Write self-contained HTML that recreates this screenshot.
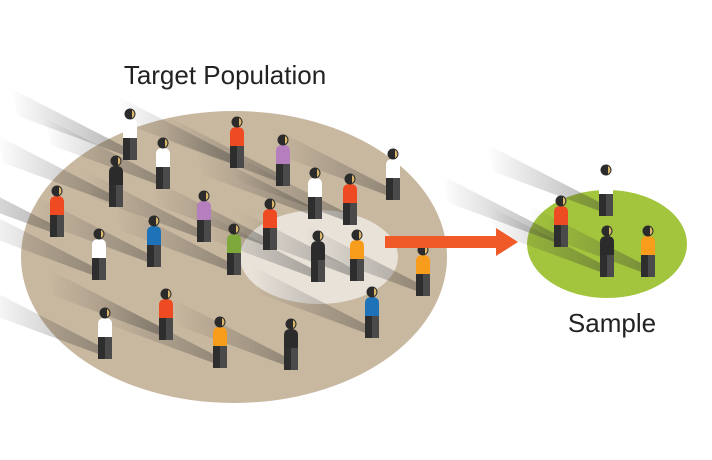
<!DOCTYPE html>
<html><head><meta charset="utf-8"><style>
html,body{margin:0;padding:0;background:#fff;width:712px;height:460px;overflow:hidden}
</style></head><body>
<svg id="s" width="712" height="460" viewBox="0 0 712 460" xmlns="http://www.w3.org/2000/svg">
<defs><linearGradient id="g" x1="1" y1="0" x2="0" y2="0"><stop offset="0" stop-color="#333" stop-opacity="0.4"/><stop offset="1" stop-color="#333" stop-opacity="0"/></linearGradient></defs>
<ellipse cx="234" cy="257" rx="213" ry="146" fill="#c9b8a0"/>
<ellipse cx="319" cy="257" rx="79" ry="47" fill="#e8e2d9"/>
<ellipse cx="607" cy="244" rx="80" ry="54" fill="#a3c53d"/>
<g id="sh"></g>
<g id="pp"></g>
<rect x="385" y="236" width="112" height="12" fill="#f05a28"/>
<polygon points="496,228 518,242 496,256" fill="#f05a28"/>
<text x="225" y="84" font-family="Liberation Sans, sans-serif" font-size="26" text-anchor="middle" fill="#222">Target Population</text>
<text x="612" y="332" font-family="Liberation Sans, sans-serif" font-size="26" text-anchor="middle" fill="#222">Sample</text>
</svg>
<script>
var P=[[130,160,'#fff'],[237,168,'#ef4b23'],[163,189,'#fff'],[283,186,'#b57fbd'],[116,207,'#2b2b2b'],[315,219,'#fff'],[350,225,'#ef4b23'],[393,200,'#fff'],[57,237,'#ef4b23'],[204,242,'#b57fbd'],[154,267,'#1e73b8'],[270,250,'#ef4b23'],[99,280,'#fff'],[234,275,'#7fa83a'],[318,282,'#2b2b2b'],[357,281,'#f89c1c'],[423,296,'#f89c1c'],[166,340,'#ef4b23'],[372,338,'#1e73b8'],[105,359,'#fff'],[220,368,'#f89c1c'],[291,370,'#2b2b2b'],[561,247,'#ef4b23'],[606,216,'#fff'],[607,277,'#2b2b2b'],[648,277,'#f89c1c']];
var sh='',pp='';
P.forEach(function(p){var x=p[0],y=p[1],c=p[2];
sh+='<polygon points="'+(x+7)+','+y+' '+(x-7)+','+(y-14)+' '+(x-120)+','+(y-72)+' '+(x-112)+','+(y-44)+'" fill="url(#g)"/>';
pp+='<g transform="translate('+x+','+y+')">'+
'<rect x="-7" y="-22" width="7" height="22" fill="#2e2e2e"/><rect x="0" y="-22" width="7" height="22" fill="#4a4a4a"/>'+
'<path d="M-7,-22 V-35 Q-7,-41 0,-41 Q7,-41 7,-35 V-22 Z" fill="'+c+'"/>'+
'<circle cx="0" cy="-46" r="5.5" fill="#2b2b2b"/><path d="M2,-50 A4.5,4.5 0 0 1 2,-42 Z" fill="#d9b66a"/></g>';});
document.getElementById('sh').innerHTML=sh;document.getElementById('pp').innerHTML=pp;
</script>
</body></html>
